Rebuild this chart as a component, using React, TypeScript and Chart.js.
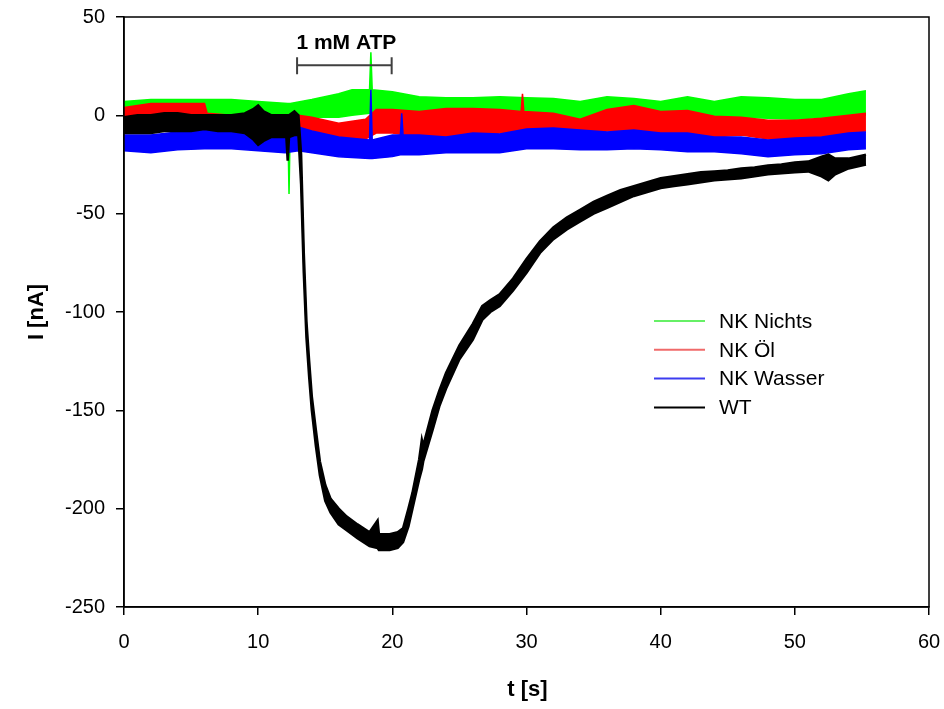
import React, { useEffect, useRef } from 'react';
import { Chart, registerables } from 'chart.js';

Chart.register(...registerables);

// ---- Data ----
const seriesNames = ['NK Nichts', 'NK Öl', 'NK Wasser', 'WT'];
const seriesColors = ['#00ff00', '#ff0000', '#0000ff', '#000000'];
const legendColors = ['#66f066', '#f06a6a', '#3c3cf0', '#000000'];

// envelope of each noisy trace: time [s], upper and lower edge [nA]
const nichtsT = [0, 2, 4, 6, 8, 10, 12.2, 12.3, 12.4, 14, 16, 17, 18.3, 18.4, 18.5, 20, 22, 24, 26, 28, 30, 32, 34, 36, 38, 40, 42, 44, 46, 48, 50, 52, 54, 55.3];
const nichtsHigh = [7, 8, 8, 8, 8, 7, 6, 6, 6, 8, 11, 13, 13, 32, 13, 12, 9.5, 9, 9, 9.5, 9, 8.5, 7, 9.5, 8.5, 7, 9.5, 7, 9.5, 9, 8, 8, 11, 12.5];
const nichtsLow = [0, 1, 1, 1, 1, 0, -1, -40, -1, -1, -1, 0, 1, 1, 1, 2, 1, 0, -1, 0, -1, -2, -3, -1, 0, -1, 0, -1, -1, -1.5, -2, -1, 0, 0];

const oelT = [0, 2, 4, 6, 6.2, 8, 10, 12, 13, 14, 16, 18, 18.8, 20, 22, 24, 26, 28, 29.6, 29.7, 29.8, 32, 34, 36, 38, 40, 42, 44, 46, 48, 50, 52, 54, 55.3];
const oelHigh = [4, 6, 6, 6, 1, 0, 0, 0, 0, -1, -4, -2, 3, 3, 2, 3.5, 3.5, 3, 2, 11, 2, 1, -2, 3, 5, 2, 2.5, -0.5, -1, -2.5, -2.5, -1.5, 0, 1];
const oelLow = [-6, -5, -5, -5, -6, -7, -7, -7, -8, -9, -13, -12, -9, -9, -11, -11, -11, -9, -8, -8, -8, -7, -10, -8, -7.5, -9, -10, -11, -10, -12, -12, -11, -9, -8];

const wasserT = [0, 2, 4, 6, 8, 10, 12, 13, 14, 16, 18.3, 18.4, 18.5, 20, 20.6, 20.7, 20.8, 22, 24, 26, 28, 30, 32, 34, 36, 38, 40, 42, 44, 46, 48, 50, 52, 54, 55.3];
const wasserHigh = [-10, -10, -8.5, -7.5, -7.5, -9, -8, -6, -8, -11, -12.5, 13, -12.5, -10, -10, 1, -10, -10, -11, -9, -9.5, -7, -6.5, -7.5, -8.5, -7.5, -9, -9, -11, -11, -12.5, -11.5, -11, -9, -8.5];
const wasserLow = [-18, -19, -17.5, -17, -17, -18, -19, -18, -19, -21, -22, -22, -22, -21, -20, -20, -20, -20, -19, -19, -19, -17, -17, -17.5, -17.5, -17, -17.5, -18.5, -18.5, -19.5, -21, -20, -19.5, -17.5, -17];

const wtT = [0, 1, 2, 3, 4, 5, 6, 7, 8, 9, 9.6, 10, 10.4, 11, 11.6, 12.1, 12.2, 12.3, 12.7, 13.0, 13.2, 13.4, 13.6, 13.8, 14.0, 14.3, 14.6, 15.0, 15.4, 16.0, 16.6, 17.4, 18.3, 18.9, 19.0, 19.8, 20.4, 20.8, 21.2, 21.5, 22.0, 22.2, 22.3, 23.0, 23.5, 24, 25, 26, 26.7, 27.3, 28, 29, 30, 31, 32, 33, 34, 35, 36, 37, 38, 39, 40, 41, 42, 43, 44, 45, 46, 47, 48, 49, 50, 51, 52, 52.5, 53, 54, 55.3];
const wtHigh = [-1, 0, 0, 1, 1, 0, 0, 0, 0, 1, 3, 5, 2, 0, 0, 0, 0, 0, 2, 0, -20, -70, -105, -125, -143, -160, -176, -188, -195, -200, -204, -208, -212, -206, -213, -213, -212, -210, -200, -192, -175, -165, -168, -150, -140, -131, -117, -106, -97, -94, -91, -83, -73, -64, -57, -52, -48, -44, -41, -38, -36, -34, -32, -31, -30, -29, -28.5, -28, -27, -26.5, -25.5, -25, -24, -23.5, -21, -20, -22, -22, -20];
const wtLow = [-9, -9, -9, -8, -8, -8, -7, -8, -8, -9, -12, -15, -13, -11, -11, -11, -23, -11, -10, -10, -35, -80, -113, -133, -150, -168, -183, -196, -202, -208, -211, -215, -219, -220, -221, -221, -220, -217, -209, -200, -185, -180, -176, -160, -148, -139, -124, -114, -104, -100, -97, -89, -80, -70, -63, -58, -54, -50, -47, -44, -41, -39, -37, -36, -35, -34, -33, -32.5, -32, -31, -30, -29.5, -29, -28.5, -31, -33, -30, -27, -25];

// annotation "1 mM ATP": application interval [s]
const atpLabel = '1 mM ATP';
const atpStart = 12.9;
const atpEnd = 19.95;
const atpLevel = 25.5; // nA

const xTitle = 't [s]';
const yTitle = 'I [nA]';

const FONT = "'Liberation Sans', Arial, Helvetica, sans-serif";

function pts(t: number[], v: number[]) {
  return t.map((x, i) => ({ x, y: v[i] }));
}

const decorPlugin = {
  id: 'decor',
  afterDraw(chart: any) {
    const { ctx, chartArea, scales } = chart;
    const xs = scales.x;
    const ys = scales.y;
    ctx.save();
    // frame
    ctx.strokeStyle = '#000';
    ctx.lineWidth = 1.5;
    ctx.strokeRect(chartArea.left, chartArea.top, chartArea.right - chartArea.left, chartArea.bottom - chartArea.top);

    // ATP bracket
    const x1 = xs.getPixelForValue(atpStart);
    const x2 = xs.getPixelForValue(atpEnd);
    const yb = ys.getPixelForValue(atpLevel);
    ctx.strokeStyle = '#404040';
    ctx.lineWidth = 2;
    ctx.beginPath();
    ctx.moveTo(x1, yb); ctx.lineTo(x2, yb);
    ctx.moveTo(x1, yb - 8); ctx.lineTo(x1, yb + 9);
    ctx.moveTo(x2, yb - 8); ctx.lineTo(x2, yb + 9);
    ctx.stroke();
    ctx.fillStyle = '#000';
    ctx.font = `bold 21px ${FONT}`;
    ctx.textAlign = 'center';
    ctx.textBaseline = 'middle';
    ctx.fillText(atpLabel, (x1 + x2) / 2 + 2, yb - 22);

    // legend
    const lx = chartArea.left + 530;
    const ly = chartArea.top + 304;
    const rowH = 28.8;
    ctx.font = `21px ${FONT}`;
    ctx.textAlign = 'left';
    seriesNames.forEach((name, i) => {
      const y = ly + i * rowH;
      ctx.strokeStyle = legendColors[i];
      ctx.lineWidth = 2;
      ctx.beginPath();
      ctx.moveTo(lx, y); ctx.lineTo(lx + 51, y);
      ctx.stroke();
      ctx.fillStyle = '#000';
      ctx.fillText(name, lx + 65, y + 1);
    });

    // axis titles
    ctx.font = `bold 22px ${FONT}`;
    ctx.textAlign = 'center';
    ctx.textBaseline = 'middle';
    ctx.fillText(xTitle, (chartArea.left + chartArea.right) / 2 + 1, 690);
    ctx.save();
    ctx.translate(37, (chartArea.top + chartArea.bottom) / 2);
    ctx.rotate(-Math.PI / 2);
    ctx.fillText(yTitle, 0, 0);
    ctx.restore();
    ctx.restore();
  },
};

function bandDatasets(t: number[], hi: number[], lo: number[], color: string, width: number) {
  return [
    {
      data: pts(t, hi),
      borderColor: color,
      backgroundColor: color,
      borderWidth: width,
      pointRadius: 0,
      fill: '+1',
      tension: 0,
    },
    {
      data: pts(t, lo),
      borderColor: color,
      backgroundColor: color,
      borderWidth: width,
      pointRadius: 0,
      fill: false,
      tension: 0,
    },
  ];
}

function zeroPad(s: any) {
  s.paddingTop = 0;
  s.paddingBottom = 0;
  s.paddingLeft = 0;
  s.paddingRight = 0;
}

export default function App() {
  const ref = useRef<HTMLCanvasElement | null>(null);
  useEffect(() => {
    document.body.style.margin = '0';
    const canvas = ref.current;
    if (!canvas) return;
    const chart = new Chart(canvas, {
      type: 'line',
      data: {
        datasets: [
          ...bandDatasets(wtT, wtHigh, wtLow, seriesColors[3], 2.5),
          ...bandDatasets(wasserT, wasserHigh, wasserLow, seriesColors[2], 1.5),
          ...bandDatasets(oelT, oelHigh, oelLow, seriesColors[1], 1.5),
          ...bandDatasets(nichtsT, nichtsHigh, nichtsLow, seriesColors[0], 1.5),
        ] as any,
      },
      options: {
        animation: false,
        responsive: false,
        devicePixelRatio: 1,
        layout: { padding: { left: 0, right: 15, top: 17, bottom: 0 } },
        plugins: { legend: { display: false }, tooltip: { enabled: false } },
        scales: {
          x: {
            type: 'linear',
            min: 0,
            max: 60,
            ticks: { stepSize: 10, color: '#000', font: { size: 20, family: FONT }, padding: 15, maxRotation: 0 },
            grid: { drawOnChartArea: false, drawTicks: true, tickLength: 8, color: '#000', lineWidth: 1.5 },
            border: { display: true, color: '#000', width: 1.5 },
            afterFit: (s: any) => { s.height = 102; zeroPad(s); },
          },
          y: {
            type: 'linear',
            min: -250,
            max: 50,
            ticks: { stepSize: 50, color: '#000', font: { size: 20, family: FONT }, padding: 11 },
            grid: { drawOnChartArea: false, drawTicks: true, tickLength: 8, color: '#000', lineWidth: 1.5 },
            border: { display: true, color: '#000', width: 1.5 },
            afterFit: (s: any) => { s.width = 124; zeroPad(s); },
          },
        },
      } as any,
      plugins: [decorPlugin],
    });
    return () => chart.destroy();
  }, []);
  return (
    <div style={{ width: 944, height: 709, background: '#fff' }}>
      <canvas ref={ref} width={944} height={709} style={{ display: 'block' }} />
    </div>
  );
}
